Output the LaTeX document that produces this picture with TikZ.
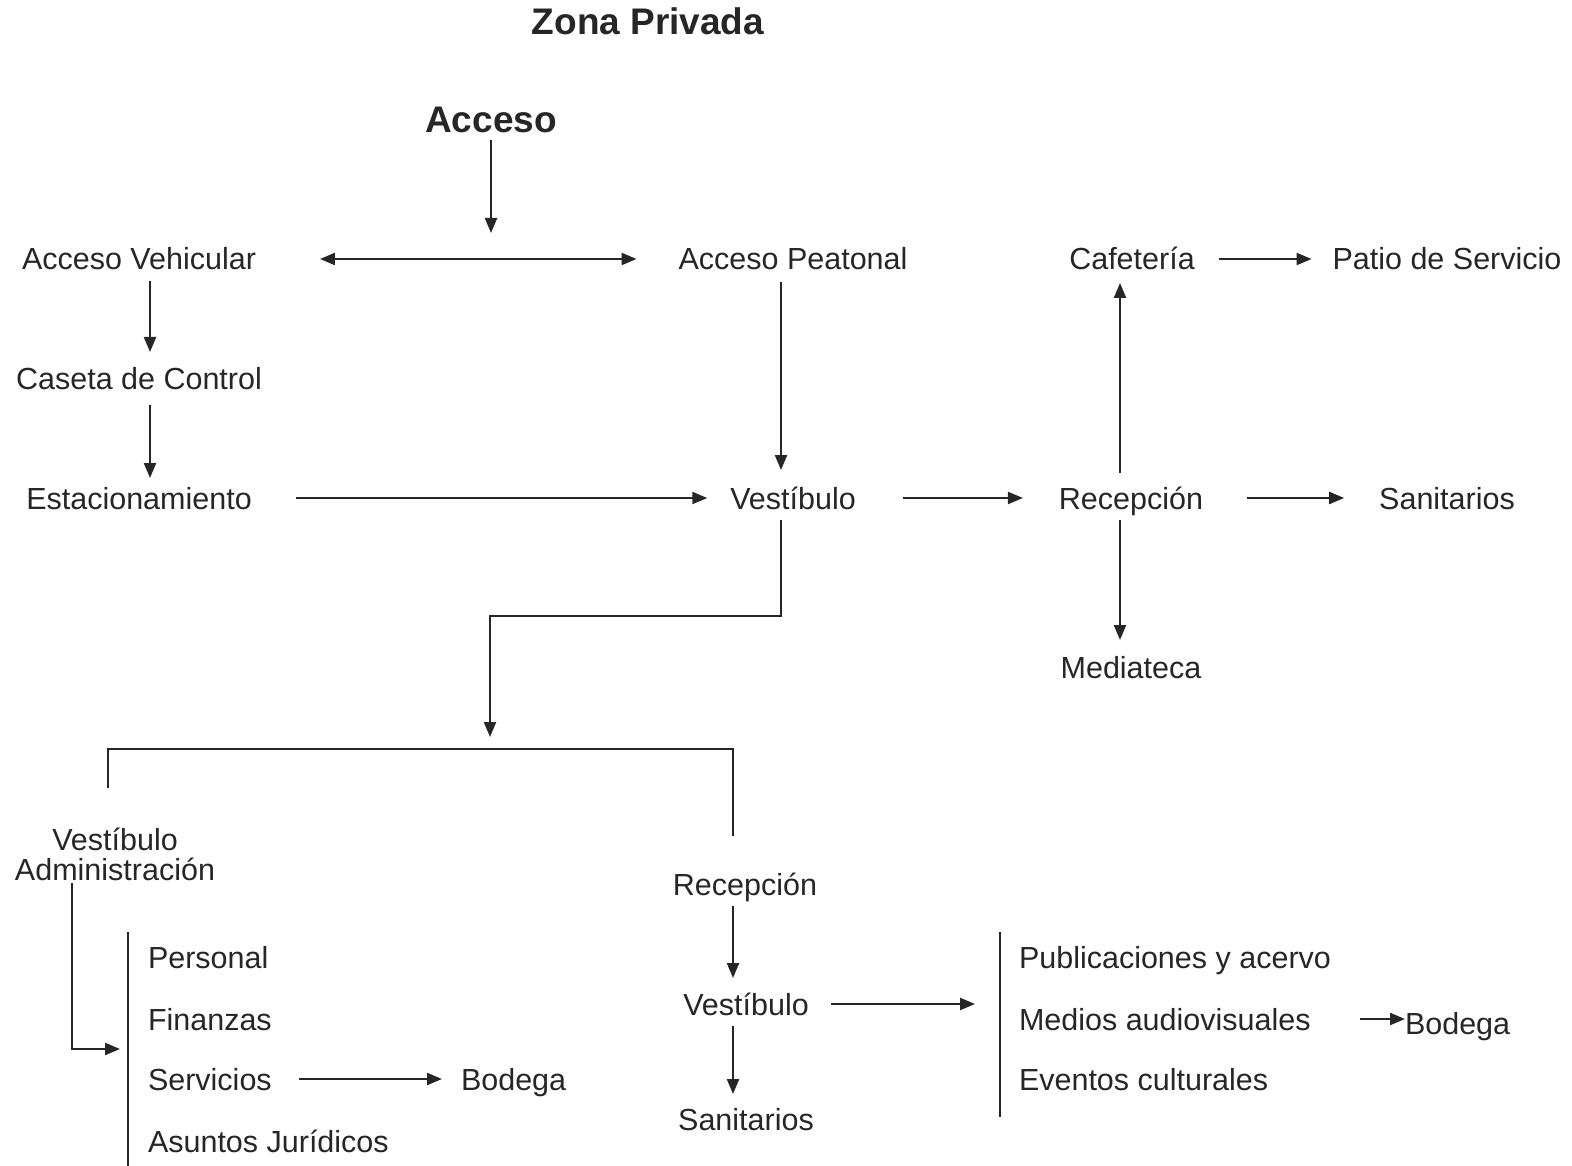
\documentclass[tikz,border=0pt]{standalone}
\usepackage{fontspec}
\setmainfont{Liberation Sans}
\usetikzlibrary{arrows.meta}

\begin{document}
\begin{tikzpicture}[
    x=1pt,y=-1pt,
    every node/.style={inner sep=0pt,outer sep=0pt,text=black!85},
    lbl/.style={font=\fontsize{30.5}{30}\selectfont,text height=24pt,text depth=2pt,anchor=base},
    item/.style={lbl,anchor=base west},
    hdr/.style={font=\fontsize{37}{37}\selectfont\bfseries,text height=26pt,text depth=2pt,anchor=base},
    link/.style={line width=2.2pt,draw=black!85,>={Triangle[length=15pt,width=12pt]}},
    arr/.style={link,->}
  ]
  \useasboundingbox (0,0) rectangle (1572,1166);

  \node[hdr] (title) at (648,35) {Zona Privada};
  \node[hdr] (acc) at (491,133) {Acceso};

  \node[lbl] (av) at (139,270) {Acceso Vehicular};
  \node[lbl] (ap) at (793,270) {Acceso Peatonal};
  \node[lbl] (caf) at (1132,270) {Cafetería};
  \node[lbl] (pat) at (1447,270) {Patio de Servicio};
  \node[lbl] (cc) at (139,389) {Caseta de Control};
  \node[lbl] (est) at (139,509) {Estacionamiento};
  \node[lbl] (vest) at (793,509) {Vestíbulo};
  \node[lbl] (rec) at (1131,509) {Recepción};
  \node[lbl] (san) at (1447,509) {Sanitarios};
  \node[lbl] (med) at (1131,678) {Mediateca};

  \node[font=\fontsize{30.5}{30}\selectfont,align=center] (va) at (115,854) {Vestíbulo\\Administración};
  \node[item] (per) at (148,968) {Personal};
  \node[item] (fin) at (148,1030) {Finanzas};
  \node[item] (ser) at (148,1090) {Servicios};
  \node[item] (asu) at (148,1152) {Asuntos Jurídicos};
  \node[item] (bodL) at (461,1090) {Bodega};

  \node[lbl] (recL) at (745,895) {Recepción};
  \node[lbl] (vestL) at (746,1015) {Vestíbulo};
  \node[lbl] (sanL) at (746,1130) {Sanitarios};
  \node[item] (pub) at (1019,968) {Publicaciones y acervo};
  \node[item] (mav) at (1019,1030) {Medios audiovisuales};
  \node[item] (eve) at (1019,1090) {Eventos culturales};
  \node[item] (bodR) at (1405,1034) {Bodega};

  \coordinate (split) at (491,258);
  \coordinate (kneeV) at (490,616);
  \coordinate (fork) at (490,749);
  \coordinate (legL) at (108,788);
  \coordinate (legR) at (733,836);
  \coordinate (lbarT) at (128,932);
  \coordinate (lbarA) at (128,1049);
  \coordinate (lbarB) at (128,1166);
  \coordinate (rbarT) at (1000,932);
  \coordinate (rbarA) at (1000,1002);
  \coordinate (rbarB) at (1000,1117);

  \draw[arr,shorten <=5pt,shorten >=25pt] (acc.south) -- (split);
  \draw[link,<->,shorten <=64pt,shorten >=42pt] (av.east) -- (ap.west);
  \draw[arr,shorten <=9pt,shorten >=13pt] ([xshift=11pt]av.south) -- ([xshift=11pt]cc.north);
  \draw[arr,shorten <=14pt,shorten >=7pt] ([xshift=11pt]cc.south) -- ([xshift=11pt]est.north);
  \draw[arr,shorten <=44pt,shorten >=23pt] (est.east) -- (vest.west);
  \draw[arr,shorten <=10pt,shorten >=15pt] ([xshift=-12pt]ap.south) -- ([xshift=-12pt]vest.north);
  \draw[arr,shorten <=47pt,shorten >=36pt] (vest.east) -- (rec.west);
  \draw[arr,shorten <=44pt,shorten >=35pt] (rec.east) -- (san.west);
  \draw[arr,shorten <=12pt,shorten >=11pt] ([xshift=-11pt]rec.north) -- ([xshift=-12pt]caf.south);
  \draw[arr,shorten <=9pt,shorten >=14pt] ([xshift=-11pt]rec.south) -- ([xshift=-11pt]med.north);
  \draw[arr,shorten <=24pt,shorten >=21pt] (caf.east) -- (pat.west);

  \draw[arr,shorten <=9pt,shorten >=12pt] ([xshift=-12pt]vest.south) |- (kneeV) -- (fork);
  \draw[link] (legL) |- (fork) -| (legR);

  \draw[link] (lbarT) -- (lbarB);
  \draw[arr,shorten <=3pt,shorten >=8pt] ([xshift=-43pt]va.south) |- (lbarA);
  \draw[arr,shorten <=27pt,shorten >=19pt] (ser.east) -- (bodL.west);

  \draw[arr,shorten <=9pt,shorten >=13pt] ([xshift=-12pt]recL.south) -- ([xshift=-13pt]vestL.north);
  \draw[arr,shorten <=9pt,shorten >=12pt] ([xshift=-13pt]vestL.south) -- ([xshift=-13pt]sanL.north);
  \draw[arr,shorten <=22pt,shorten >=25pt] (vestL.east) -- (vestL.east -| rbarA);
  \draw[link] (rbarT) -- (rbarB);
  \draw[arr,shorten <=49pt] (mav.east) -- (mav.east -| bodR.west);
\end{tikzpicture}
\end{document}
